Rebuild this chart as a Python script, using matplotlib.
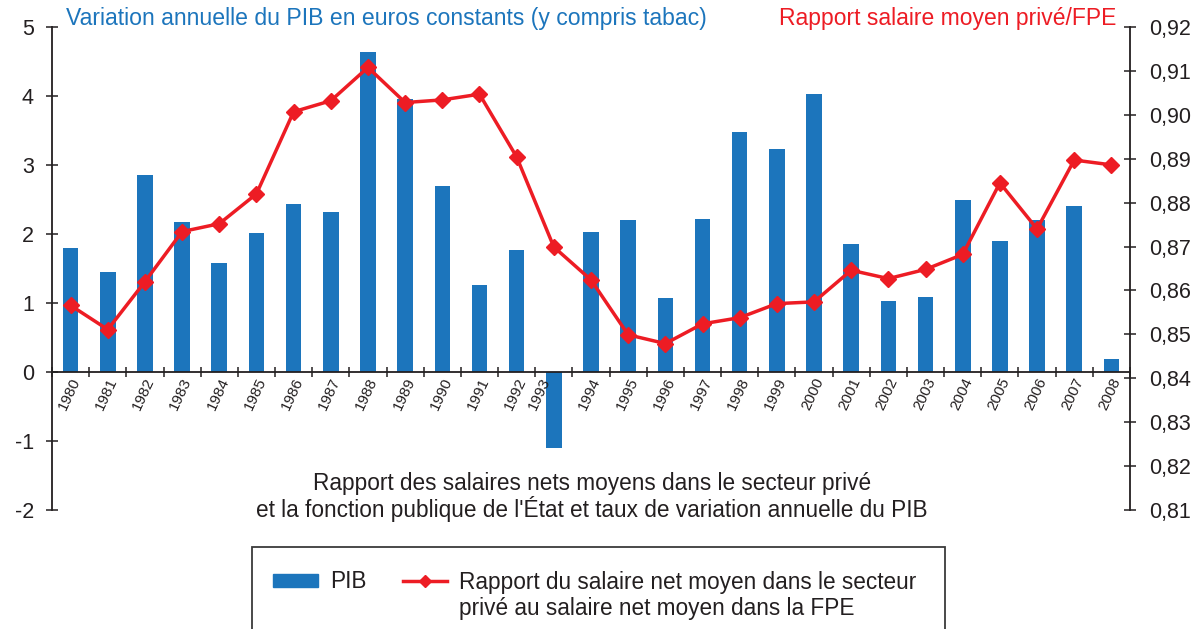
import matplotlib
matplotlib.use("Agg")
import matplotlib.pyplot as plt
import matplotlib.transforms as mtransforms
from matplotlib.patches import Rectangle, Patch
from matplotlib.lines import Line2D
import numpy as np

plt.rcParams['font.family'] = ['Liberation Sans', 'DejaVu Sans']

# annees et series
annees = [str(a) for a in range(1980, 2009)]
pib = [1.80, 1.45, 2.86, 2.17, 1.58, 2.01, 2.43, 2.32, 4.64, 3.95,
       2.70, 1.26, 1.77, -1.10, 2.03, 2.20, 1.07, 2.22, 3.48, 3.23,
       4.03, 1.86, 1.03, 1.09, 2.49, 1.90, 2.20, 2.41, 0.19]
rapport = [0.8566, 0.8511, 0.8620, 0.8734, 0.8752, 0.8820, 0.9007, 0.9032, 0.9108, 0.9028,
           0.9034, 0.9047, 0.8904, 0.8699, 0.8624, 0.8499, 0.8479, 0.8524, 0.8538, 0.8570,
           0.8574, 0.8646, 0.8627, 0.8648, 0.8682, 0.8845, 0.8740, 0.8897, 0.8886]
gauche_ticks = [-2, -1, 0, 1, 2, 3, 4, 5]
droite_ticks = [0.81, 0.82, 0.83, 0.84, 0.85, 0.86, 0.87, 0.88, 0.89, 0.90, 0.91, 0.92]

bleu = '#1c75bc'
rouge = '#ed1c24'
gris = '#231f20'

W, H = 1203, 629
fig = plt.figure(figsize=(W / 100, H / 100), dpi=100)
ax = fig.add_axes([52 / W, 1 - 510 / H, (1130 - 52) / W, (510 - 27) / H])
ax2 = ax.twinx()

x = np.arange(len(annees))
ax.bar(x, pib, width=0.42, color=bleu, zorder=1)
ax2.plot(x, rapport, color=rouge, lw=2.5, marker='D', ms=8.5, zorder=3)

ax.set_xlim(-0.5, len(annees) - 0.5)
ax.set_ylim(-2, 5)
ax2.set_ylim(0.81, 0.92)

# axes: gauche, droite, et axe des x a y=0
for a in (ax, ax2):
    a.spines['top'].set_visible(False)
    a.spines['bottom'].set_visible(False)
    a.set_facecolor('none')
ax2.spines['left'].set_visible(False)
ax.spines['right'].set_visible(False)
ax.spines['bottom'].set_visible(True)
ax.spines['bottom'].set_position(('data', 0))
for s in ('left', 'bottom'):
    ax.spines[s].set_color(gris)
    ax.spines[s].set_linewidth(1.3)
ax2.spines['right'].set_color(gris)
ax2.spines['right'].set_linewidth(1.3)

ax.set_yticks(gauche_ticks)
ax.set_yticklabels([str(v) for v in gauche_ticks])
ax.tick_params(axis='y', direction='inout', length=8, width=1.1, color=gris,
               labelsize=15.5, labelcolor=gris, pad=9)
ax2.set_yticks(droite_ticks)
ax2.set_yticklabels([f"{v:.2f}".replace('.', ',') for v in droite_ticks])
ax2.tick_params(axis='y', direction='inout', length=8, width=1.1, color=gris,
                labelsize=15.5, labelcolor=gris, pad=10)

ax.set_xticks(x)
ax.set_xticklabels(annees)
ax.set_xticks(np.arange(len(annees) + 1) - 0.5, minor=True)
ax.tick_params(axis='x', which='major', length=0, pad=5, labelsize=11, labelcolor=gris)
ax.tick_params(axis='x', which='minor', direction='inout', length=7, width=1.1, color=gris)
for i, lab in enumerate(ax.get_xticklabels()):
    # 1993 : l'etiquette passe a gauche de la barre negative
    dx = -7 if pib[i] < 0 else 6
    lab.set_rotation(65)
    lab.set_rotation_mode('anchor')
    lab.set_ha('right')
    lab.set_va('center')
    lab.set_transform(lab.get_transform() +
                      mtransforms.ScaledTranslation(dx / 100, 0, fig.dpi_scale_trans))

# titres des axes en haut
fig.text(66 / W, 1 - 18 / H, "Variation annuelle du PIB en euros constants (y compris tabac)",
         color=bleu, fontsize=16.6, ha='left', va='center')
fig.text(1116 / W, 1 - 18 / H, "Rapport salaire moyen privé/FPE",
         color=rouge, fontsize=16.5, ha='right', va='center')

fig.text(592 / W, 1 - 497 / H,
         "Rapport des salaires nets moyens dans le secteur privé\n"
         "et la fonction publique de l'État et taux de variation annuelle du PIB",
         color=gris, fontsize=16.3, ha='center', va='center', linespacing=1.05)

# cadre de la legende, coupe en bas
fig.patches.append(Rectangle((252 / W, -0.05), (945 - 252) / W, 0.05 + (629 - 547) / H,
                             transform=fig.transFigure, fill=False, ec='#3a3a3a', lw=1.3))
poignees = [Patch(color=bleu),
            Line2D([], [], color=rouge, lw=2.5, marker='D', ms=6.5)]
etiquettes = ["PIB", "Rapport du salaire net moyen dans le secteur"]
leg = fig.legend(poignees, etiquettes, ncol=2, frameon=False, fontsize=16.3,
                 loc='center left', bbox_to_anchor=(253 / W, 1 - 582 / H),
                 handlelength=1.95, handleheight=0.45, handletextpad=0.55, columnspacing=1.6,
                 labelcolor=gris)

# seconde ligne du libelle, alignee sous la premiere
fig.canvas.draw()
bb = leg.get_texts()[1].get_window_extent()
fig.text(bb.x0 / W, 1 - 608 / H, "privé au salaire net moyen dans la FPE",
         color=gris, fontsize=16.3, ha='left', va='center')

fig.savefig("out.png", dpi=100)
